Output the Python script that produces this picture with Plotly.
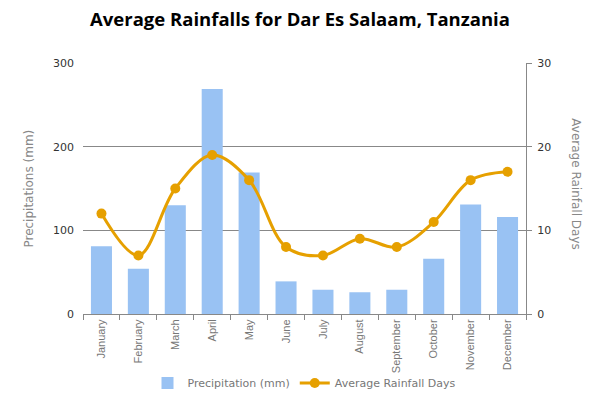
import plotly.graph_objects as go

months = ["January", "February", "March", "April", "May", "June", "July",
          "August", "September", "October", "November", "December"]
precip = [81, 54, 130, 269, 169, 39, 29, 26, 29, 66, 131, 116]
rain_days = [12, 7, 15, 19, 16, 8, 7, 9, 8, 11, 16, 17]

fig = go.Figure()
fig.add_trace(go.Bar(x=months, y=precip, name="Precipitation (mm)",
                     marker=dict(color="#99C2F3", line=dict(width=0)), yaxis="y"))
fig.add_trace(go.Scatter(x=months, y=rain_days, name="Average Rainfall Days",
                         mode="lines+markers", line=dict(color="#E6A000", width=3, shape="spline"),
                         marker=dict(size=10, color="#E6A000"), yaxis="y2"))

fig.update_layout(
    width=600, height=400,
    margin=dict(l=83, r=74, t=63, b=86, autoexpand=False),
    paper_bgcolor="white", plot_bgcolor="white",
    title=dict(text="<b>Average Rainfalls for Dar Es Salaam, Tanzania</b>",
               x=0.5, xanchor="center", y=0.95, yanchor="middle",
               font=dict(family="Open Sans", size=18.5, color="black")),
    bargap=0.43,
    font=dict(family="DejaVu Sans", size=11, color="#333"),
    xaxis=dict(range=[-0.5, len(months) - 0.5], showgrid=False, showline=True,
               linecolor="#888", tickangle=-90,
               ticks="outside", ticklen=5, tickcolor="#888", tickson="boundaries",
               automargin=False,
               tickfont=dict(family="Liberation Sans", color="#777", size=11)),
    yaxis=dict(range=[0, 300], dtick=100, showgrid=True, gridcolor="#888", gridwidth=1,
               showline=False, zeroline=False, automargin=False, ticklabelstandoff=8,
               tickfont=dict(color="#333", size=11)),
    yaxis2=dict(range=[0, 30], dtick=10, overlaying="y", side="right", showgrid=False,
                showline=True, linecolor="#888", ticks="outside", ticklen=5, tickcolor="#888",
                zeroline=False, automargin=False, ticklabelstandoff=3,
                tickfont=dict(color="#333", size=11)),
    legend=dict(orientation="h", x=0.5, xanchor="center", y=-0.275, yanchor="middle",
                bgcolor="rgba(0,0,0,0)",
                font=dict(family="DejaVu Sans", color="#777", size=11), traceorder="normal"),
    annotations=[
        dict(text="Precipitations (mm)", xref="paper", yref="paper", x=-0.124, y=0.5,
             xanchor="center", yanchor="middle", textangle=-90, showarrow=False,
             font=dict(family="DejaVu Sans", color="#888", size=12)),
        dict(text="Average Rainfall Days", xref="paper", yref="paper", x=1.111, y=0.52,
             xanchor="center", yanchor="middle", textangle=90, showarrow=False,
             font=dict(family="DejaVu Sans", color="#888", size=12)),
    ],
)
fig.write_html("out.html")
